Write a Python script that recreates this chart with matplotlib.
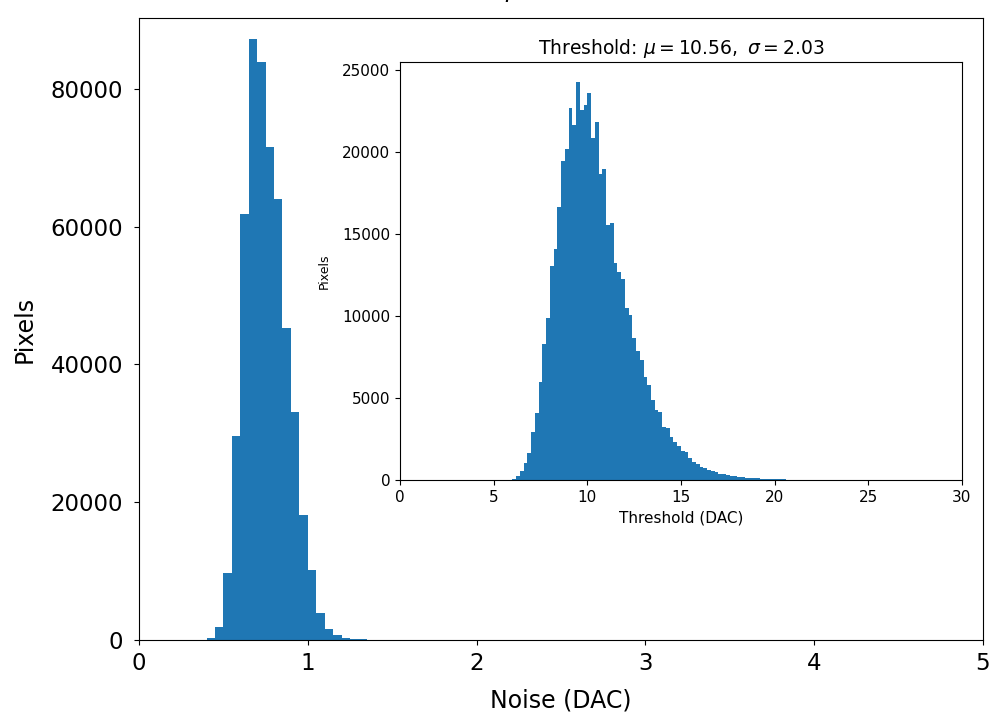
import matplotlib
matplotlib.use("Agg")
import matplotlib.pyplot as plt
import numpy as np

# noise histogram, bins of 0.05 DAC starting at 0.40
noise_edges = np.round(np.arange(0.40, 1.351, 0.05), 2)
noise_counts = [300, 1900, 9700, 29600, 61800, 87300, 83900, 71600, 64000,
                45300, 33100, 18100, 10200, 3900, 1600, 700, 300, 200, 150]
noise_mu, noise_sigma = 0.76, 0.14

# threshold histogram, bins of 0.2 DAC starting at 6.0
thr_edges = np.round(np.arange(6.0, 20.61, 0.2), 1)
thr_counts = [80, 240, 550, 1060, 1670, 2930, 4070, 6000, 8270, 9860,
              13050, 14070, 16670, 19450, 20220, 22700, 21630, 24290, 22560, 22870,
              23620, 20870, 21870, 18640, 18990, 15530, 15650, 13250, 12710, 12280,
              10510, 10060, 8680, 7870, 7320, 6260, 5790, 4900, 4290, 4140,
              3240, 3150, 2610, 2290, 2050, 1750, 1680, 1360, 1120, 980,
              770, 710, 610, 550, 470, 390, 350, 300, 260, 240,
              200, 180, 140, 140, 120, 100, 80, 80, 60, 60,
              40, 40, 40]
thr_mu, thr_sigma = 10.56, 2.03

fig = plt.figure(figsize=(9.95, 7.12), dpi=100)
ax = fig.add_axes([0.1397, 0.1011, 0.8482, 0.8736])

centers = (noise_edges[:-1] + noise_edges[1:]) / 2
ax.hist(centers, bins=noise_edges, weights=noise_counts, color="#1f77b4")
ax.set_xlim(0, 5)
ax.set_ylim(0, 90300)
ax.set_yticks([0, 20000, 40000, 60000, 80000])
ax.tick_params(axis="both", labelsize=16.5)
ax.tick_params(axis="y", pad=8)
ax.tick_params(axis="x", pad=5)
ax.set_xlabel("Noise (DAC)", fontsize=17, labelpad=10)
ax.set_ylabel("Pixels", fontsize=17, labelpad=10)

# main title sits above the top edge, only a descender peeks in
fig.text(0.5737, 1.0045, rf"Noise: $\mu = {noise_mu:.2f},\ \sigma = {noise_sigma:.2f}$",
         ha="center", va="baseline", fontsize=17)

axin = fig.add_axes([0.402, 0.3258, 0.5648, 0.5871])
tc = (thr_edges[:-1] + thr_edges[1:]) / 2
axin.hist(tc, bins=thr_edges, weights=thr_counts, color="#1f77b4")
axin.set_xlim(0, 30)
axin.set_ylim(0, 25500)
axin.set_yticks([0, 5000, 10000, 15000, 20000, 25000])
axin.tick_params(axis="both", labelsize=11)
axin.set_xlabel("Threshold (DAC)", fontsize=11)
axin.set_ylabel("Pixels", fontsize=9, labelpad=8)
axin.set_title(rf"Threshold: $\mu = {thr_mu:.2f},\ \sigma = {thr_sigma:.2f}$", fontsize=13.5)

fig.savefig("out.png", dpi=100)
